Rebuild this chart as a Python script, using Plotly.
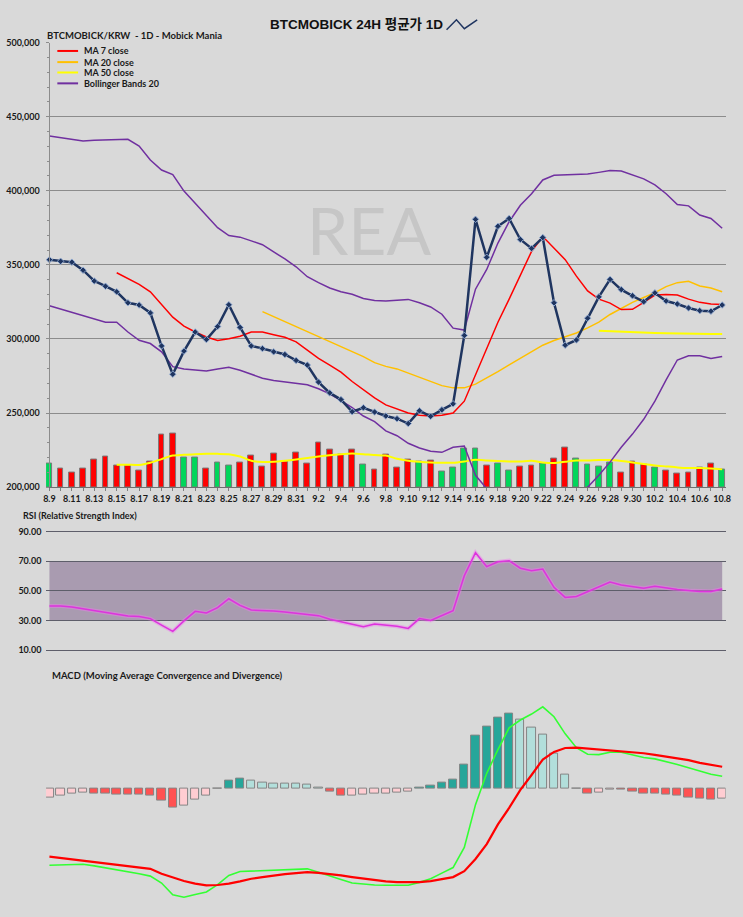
import plotly.graph_objects as go

W, H = 743, 917
BG = "#d9d9d9"
FONT = "Lato, 'Noto Sans CJK KR', sans-serif"
TITLE_FONT = "'Liberation Sans', Arial, 'Noto Sans CJK KR', sans-serif"
TXT = "#1a1a1a"

# ---------------- data ----------------
dates = ["8.9", "8.10", "8.11", "8.12", "8.13", "8.14", "8.15", "8.16", "8.17", "8.18",
         "8.19", "8.20", "8.21", "8.22", "8.23", "8.24", "8.25", "8.26", "8.27", "8.28",
         "8.29", "8.30", "8.31", "9.1", "9.2", "9.3", "9.4", "9.5", "9.6", "9.7",
         "9.8", "9.9", "9.10", "9.11", "9.12", "9.13", "9.14", "9.15", "9.16", "9.17",
         "9.18", "9.19", "9.20", "9.21", "9.22", "9.23", "9.24", "9.25", "9.26", "9.27",
         "9.28", "9.29", "9.30", "10.1", "10.2", "10.3", "10.4", "10.5", "10.6", "10.7",
         "10.8"]

close = [353500, 352400, 351800, 346400, 339100, 335600, 331800, 324400, 322900, 317600,
         295300, 276200, 291800, 304700, 299600, 308400, 323100, 307800, 295300, 293500,
         291300, 289500, 285500, 282400, 270900, 263600, 259100, 250900, 253600, 250700,
         248000, 246200, 242900, 251500, 247800, 252200, 256200, 302400, 380700, 355100,
         376000, 381300, 367100, 361100, 368400, 324400, 295800, 299300, 314000, 328400,
         340200, 333300, 329100, 325100, 331100, 325600, 323600, 320900, 319100, 318700,
         322900]

ma7 = [None] * 6 + [
    344700, 340900, 336900, 331800, 323600, 314700, 308700, 304700, 301300, 298900,
    300200, 301800, 304700, 304700, 302900, 301100, 298000, 292400, 286900, 282400,
    277600, 271300, 265800, 260200, 255500, 252500, 250000, 248500, 248000, 248500,
    250000, 258000, 276200, 294000, 311300, 326900, 343600, 359100, 369100, 361300,
    353500, 342400, 332400, 326900, 324200, 319800, 320000, 324700, 329600, 330000,
    329600, 326900, 324700, 323600, 323300]

ma20 = [None] * 19 + [
    318400, 315000, 311700, 308300, 305000, 301600, 298200, 294900, 291500, 288100,
    284000, 281500, 279800, 277000, 274500, 271300, 268500, 267000, 267000, 269500,
    273500, 278000, 282500, 287000, 291500, 295800, 299000, 301300, 304000, 307500,
    311300, 316500, 320500, 324700, 328000, 331300, 335300, 338000, 338900, 335800,
    334400, 331800]

ma50 = [None] * 49 + [305600, 305200, 304800, 304500, 304200, 304000, 303800, 303600,
                      303500, 303400, 303300, 303300]

bb_upper = [436900, 435800, 434200, 433600, 434000, 434400, 434700, 434700, 430200, 420700,
            414000, 410900, 399800, 391800, 383600, 375100, 369800, 368700, 366200, 363600,
            358700, 354000, 348700, 342000, 338000, 334400, 331800, 330200, 327300, 326000,
            325600, 326400, 326700, 324400, 321600, 316700, 307300, 306000, 333600, 346900,
            364700, 379100, 390200, 398000, 407300, 410400, 410700, 410900, 411300, 412400,
            413600, 413300, 410900, 408000, 404000, 398000, 390700, 389800, 383600, 381300,
            374700]

bb_lower = [322400, 320200, 318000, 315800, 313100, 311300, 311300, 304700, 299100, 296900,
            291300, 281300, 279800, 278900, 278400, 279800, 280900, 278900, 276200, 273500,
            272000, 270900, 270000, 269100, 266400, 262900, 258400, 253600, 248000, 244200,
            238000, 234700, 229600, 226400, 224200, 223500, 226900, 227800, 208000, 199000,
            185000, 175000, 170000, 166000, 163000, 168000, 177000, 189000, 200000, 208000,
            216900, 226900, 235800, 245800, 258000, 272400, 285800, 288700, 288700, 286900,
            288200]

volume = [2430, 1870, 1500, 1930, 2830, 3130, 2170, 2170, 1730, 2570,
          5330, 5430, 3030, 3030, 1930, 2470, 2230, 2530, 3230, 2070,
          3430, 2570, 3530, 2370, 4500, 3830, 3330, 3770, 2330, 1830,
          3330, 2030, 2770, 2630, 2700, 1530, 1970, 3930, 3930, 2230,
          2430, 1730, 2130, 2230, 2430, 2930, 4030, 2930, 2330, 2130,
          2470, 1470, 2630, 2270, 1970, 1730, 1400, 1470, 2030, 2370,
          1800]
vol_dir = ["G", "R", "R", "R", "R", "R", "R", "R", "R", "R",
           "R", "R", "G", "G", "R", "G", "G", "R", "R", "R",
           "R", "R", "R", "R", "R", "R", "R", "R", "G", "R",
           "R", "R", "R", "G", "R", "G", "G", "G", "G", "R",
           "G", "G", "R", "R", "G", "R", "R", "G", "G", "G",
           "G", "R", "R", "R", "G", "R", "R", "R", "R", "R",
           "G"]
vol_ma = [None] * 6 + [
    2270, 2270, 2240, 2470, 2840, 3200, 3270, 3340, 3370, 3370,
    3340, 3100, 2670, 2540, 2570, 2670, 2800, 2940, 3100, 3240,
    3340, 3400, 3340, 3250, 3200, 2870, 2670, 2570, 2500, 2470,
    2470, 2600, 2770, 2700, 2640, 2600, 2600, 2670, 2500, 2440,
    2570, 2700, 2700, 2740, 2740, 2640, 2500, 2340, 2200, 2100,
    2000, 1940, 1940, 1900, 1800]

rsi = [39.8, 39.8, 39.1, 38.0, 36.7, 35.6, 34.7, 33.1, 32.7, 31.3,
       26.9, 22.7, 29.8, 36.2, 35.1, 38.7, 44.7, 40.2, 37.1, 36.9,
       36.4, 35.8, 35.1, 34.2, 33.3, 30.9, 29.1, 27.8, 25.8, 27.6,
       26.9, 26.2, 24.7, 31.3, 30.0, 33.6, 36.7, 60.2, 75.8, 66.4,
       69.6, 70.4, 65.3, 63.6, 64.7, 52.4, 45.6, 46.2, 49.6, 53.1,
       56.0, 54.0, 52.7, 51.8, 53.1, 51.8, 50.9, 50.2, 49.6, 49.6,
       51.3]
rsi_ticks = [10, 30, 50, 70, 90]
rsi_ticktext = ["10.00", "30.00", "50.00", "70.00", "90.00"]

macd_hist = [-27, -21, -15, -11, -13, -15, -16, -19, -19, -21,
             -35, -56, -51, -33, -21, 1, 24, 30, 24, 20,
             17, 16, 15, 12, 3, -7, -21, -20, -17, -15,
             -13, -11, -8, 3, 9, 19, 29, 74, 162, 190,
             216, 227, 210, 185, 164, 107, 42, 2, -15, -12,
             -3, -3, -8, -15, -15, -17, -21, -27, -30, -33,
             -30]
hist_kind = ["P", "P", "P", "P", "R", "R", "R", "R", "R", "R",
             "R", "R", "P", "P", "P", "D", "D", "D", "L", "L",
             "L", "L", "L", "L", "L", "R", "R", "P", "P", "P",
             "P", "P", "P", "D", "D", "D", "D", "D", "D", "D",
             "D", "D", "L", "L", "L", "L", "L", "L", "R", "P",
             "P", "R", "R", "R", "R", "R", "R", "R", "R", "R",
             "P"]
macd_line = [-232, -231, -230, -229, -234, -240, -244, -252, -258, -265,
             -286, -322, -329, -321, -313, -291, -263, -251, -250, -249,
             -247, -245, -244, -243, -253, -263, -275, -286, -290, -292,
             -293, -293, -293, -284, -273, -256, -239, -178, -48, 47,
             119, 185, 209, 227, 249, 219, 167, 125, 105, 104,
             111, 111, 102, 95, 91, 83, 74, 64, 53, 44,
             38]
signal_line = [-206, -210, -213, -217, -221, -225, -229, -235, -239, -243,
               -258, -269, -280, -288, -293, -292, -288, -281, -273, -268,
               -263, -259, -256, -253, -255, -258, -263, -268, -273, -278,
               -281, -283, -284, -283, -280, -275, -268, -250, -213, -168,
               -108, -58, -3, 42, 89, 112, 124, 125, 122, 119,
               116, 114, 112, 108, 103, 98, 92, 87, 79, 74,
               67]

price_ticks = [200000, 250000, 300000, 350000, 400000, 450000, 500000]
price_ticktext = ["200,000", "250,000", "300,000", "350,000", "400,000", "450,000", "500,000"]

legend_names = ["MA 7 close", "MA 20 close", "MA 50 close", "Bollinger Bands 20"]
legend_colors = ["#ff0000", "#ffc000", "#ffff00", "#7030a0"]

# ---------------- helpers ----------------
idx = list(range(len(dates)))
def fx(p):
    return p / W
def fy(p):
    return 1 - p / H

X_FIRST, X_LAST, PAD = 47.0, 728.0, 0.3
step = (X_LAST - X_FIRST) / (len(dates) - 1)
xdom = [fx(X_FIRST - PAD * step), fx(X_LAST + PAD * step)]
xrange_ = [-PAD, len(dates) - 1 + PAD]

vol_colors = ["#00d65a" if d == "G" else "#ff0000" for d in vol_dir]
kind_color = {"D": "#26a69a", "L": "#b2dfdb", "R": "#ff5252", "P": "#ffcdd2"}
hist_colors = [kind_color[k] for k in hist_kind]

fig = go.Figure()

# volume (base axis y, drawn beneath the price lines)
fig.add_trace(go.Bar(x=idx, y=volume, xaxis="x", yaxis="y", width=0.52,
                     marker=dict(color=vol_colors, line=dict(color="#7a7a7a", width=1)),
                     showlegend=False))
fig.add_trace(go.Scatter(x=idx, y=vol_ma, xaxis="x", yaxis="y", mode="lines",
                         line=dict(color="#ffff00", width=2, shape="spline", smoothing=0.6),
                         showlegend=False))

# price lines (overlaying axis y2)
fig.add_trace(go.Scatter(x=idx, y=bb_upper, xaxis="x", yaxis="y2", mode="lines",
                         line=dict(color="#7030a0", width=1.5), showlegend=False))
fig.add_trace(go.Scatter(x=idx, y=bb_lower, xaxis="x", yaxis="y2", mode="lines",
                         line=dict(color="#7030a0", width=1.5), showlegend=False))
fig.add_trace(go.Scatter(x=idx, y=ma50, xaxis="x", yaxis="y2", mode="lines",
                         line=dict(color="#ffff00", width=2), showlegend=False))
fig.add_trace(go.Scatter(x=idx, y=ma20, xaxis="x", yaxis="y2", mode="lines",
                         line=dict(color="#ffc000", width=1.5), showlegend=False))
fig.add_trace(go.Scatter(x=idx, y=ma7, xaxis="x", yaxis="y2", mode="lines",
                         line=dict(color="#ff0000", width=1.5), showlegend=False))
fig.add_trace(go.Scatter(x=idx, y=close, xaxis="x", yaxis="y2", mode="lines+markers",
                         line=dict(color="#1f3560", width=2.5),
                         marker=dict(symbol="diamond", size=5, color="#1f3560",
                                     line=dict(color="rgba(150,175,215,0.9)", width=1)),
                         showlegend=False))

# RSI
fig.add_trace(go.Scatter(x=idx, y=rsi, xaxis="x2", yaxis="y3", mode="lines",
                         line=dict(color="rgba(240,120,240,0.45)", width=4), showlegend=False,
                         hoverinfo="skip"))
fig.add_trace(go.Scatter(x=idx, y=rsi, xaxis="x2", yaxis="y3", mode="lines",
                         line=dict(color="#dd33dd", width=1.5), showlegend=False))

# MACD
fig.add_trace(go.Bar(x=idx, y=macd_hist, xaxis="x3", yaxis="y4", width=0.74,
                     marker=dict(color=hist_colors, line=dict(color="#858585", width=1)),
                     showlegend=False))
fig.add_trace(go.Scatter(x=idx, y=macd_line, xaxis="x3", yaxis="y4", mode="lines",
                         line=dict(color="#33ff33", width=1.6), showlegend=False))
fig.add_trace(go.Scatter(x=idx, y=signal_line, xaxis="x3", yaxis="y4", mode="lines",
                         line=dict(color="#ff0000", width=2.2), showlegend=False))

tickfont = dict(family=FONT, size=9, color=TXT, weight="bold")
xt_text = [d if i % 2 == 0 else "" for i, d in enumerate(dates)]

fig.update_layout(
    width=W, height=H, margin=dict(l=0, r=0, t=0, b=0),
    paper_bgcolor=BG, plot_bgcolor=BG, showlegend=False, bargap=0,
    xaxis=dict(domain=xdom, range=xrange_, anchor="y", tickmode="array", tickvals=idx,
               ticktext=xt_text, ticks="outside", ticklen=3, tickcolor="#7f7f7f",
               showline=True, linecolor="#6f6f6f", linewidth=1, mirror=False,
               showgrid=False, zeroline=False, tickfont=tickfont),
    yaxis=dict(domain=[fy(487), fy(37)], range=[0, 45000], visible=False,
               showgrid=False, zeroline=False),
    yaxis2=dict(overlaying="y", anchor="free", position=fx(X_FIRST), side="left",
                range=[200000, 500000], tickmode="array", tickvals=price_ticks,
                ticktext=price_ticktext, showgrid=True, gridcolor="#8c8c8c", gridwidth=1,
                showline=True, linecolor="#8c8c8c", linewidth=1, ticks="outside",
                ticklen=3, tickcolor="#8c8c8c", zeroline=False, tickfont=tickfont,
                ticklabelstandoff=5,
                minor=dict(dtick=10000, ticks="outside", ticklen=2, tickcolor="#8c8c8c",
                           showgrid=False)),
    xaxis2=dict(domain=xdom, range=xrange_, anchor="y3", visible=False, showgrid=False),
    yaxis3=dict(domain=[fy(659.5), fy(524.5)], range=[5, 95], anchor="free",
                position=fx(X_FIRST), tickmode="array", tickvals=rsi_ticks,
                ticktext=rsi_ticktext, showgrid=True, gridcolor="#5e5e6a", gridwidth=1,
                showline=False, zeroline=False, ticks="", tickfont=tickfont,
                ticklabelstandoff=8),
    xaxis3=dict(domain=xdom, range=xrange_, anchor="y4", visible=False, showgrid=False),
    yaxis4=dict(domain=[fy(910), fy(700)], range=[-353, 277], visible=False,
                showgrid=False, zeroline=False),
)

shapes = [
    # RSI 30-70 band
    dict(type="rect", xref="x2", yref="y3", x0=0, x1=len(dates) - 1, y0=30, y1=70,
         fillcolor="#a99bb0", line=dict(width=0), layer="below"),
    # title icon
    dict(type="path", xref="paper", yref="paper",
         path=f"M {fx(449)},{fy(24)} L {fx(459)},{fy(14)} L {fx(467)},{fy(23)} L {fx(480)},{fy(14)}",
         line=dict(color="#1f3560", width=1.5)),
]
annotations = [
    dict(text="BTCMOBICK 24H 평균가 1D", x=fx(358), y=fy(18.5), xref="paper", yref="paper",
         showarrow=False, xanchor="center", yanchor="middle",
         font=dict(family=TITLE_FONT, size=13.5, color="#111111", weight="bold")),
    dict(text="BTCMOBICK/KRW  - 1D - Mobick Mania", x=fx(43), y=fy(30), xref="paper",
         yref="paper", showarrow=False, xanchor="left", yanchor="middle",
         font=dict(family=FONT, size=9.5, color=TXT, weight="bold")),
    dict(text="REA", x=fx(370), y=fy(226), xref="paper", yref="paper", showarrow=False,
         xanchor="center", yanchor="middle",
         font=dict(family="Lato, sans-serif", size=66, color="#c6c6c6")),
    dict(text="RSI (Relative Strength Index)", x=fx(18), y=fy(516), xref="paper",
         yref="paper", showarrow=False, xanchor="left", yanchor="middle",
         font=dict(family=FONT, size=9, color=TXT, weight="bold")),
    dict(text="MACD (Moving Average Convergence and Divergence)", x=fx(48), y=fy(678),
         xref="paper", yref="paper", showarrow=False, xanchor="left", yanchor="middle",
         font=dict(family=FONT, size=9.5, color=TXT, weight="bold")),
]
legend_rows = [45.5, 56.8, 67.3, 78.3]
for name, col, yy in zip(legend_names, legend_colors, legend_rows):
    shapes.append(dict(type="line", xref="paper", yref="paper", x0=fx(55), x1=fx(76),
                       y0=fy(yy), y1=fy(yy), line=dict(color=col, width=2)))
    annotations.append(dict(text=name, x=fx(80), y=fy(yy), xref="paper", yref="paper",
                            showarrow=False, xanchor="left", yanchor="middle",
                            font=dict(family=FONT, size=9, color=TXT, weight="bold")))

fig.update_layout(shapes=shapes, annotations=annotations)
fig.write_html("out.html")
